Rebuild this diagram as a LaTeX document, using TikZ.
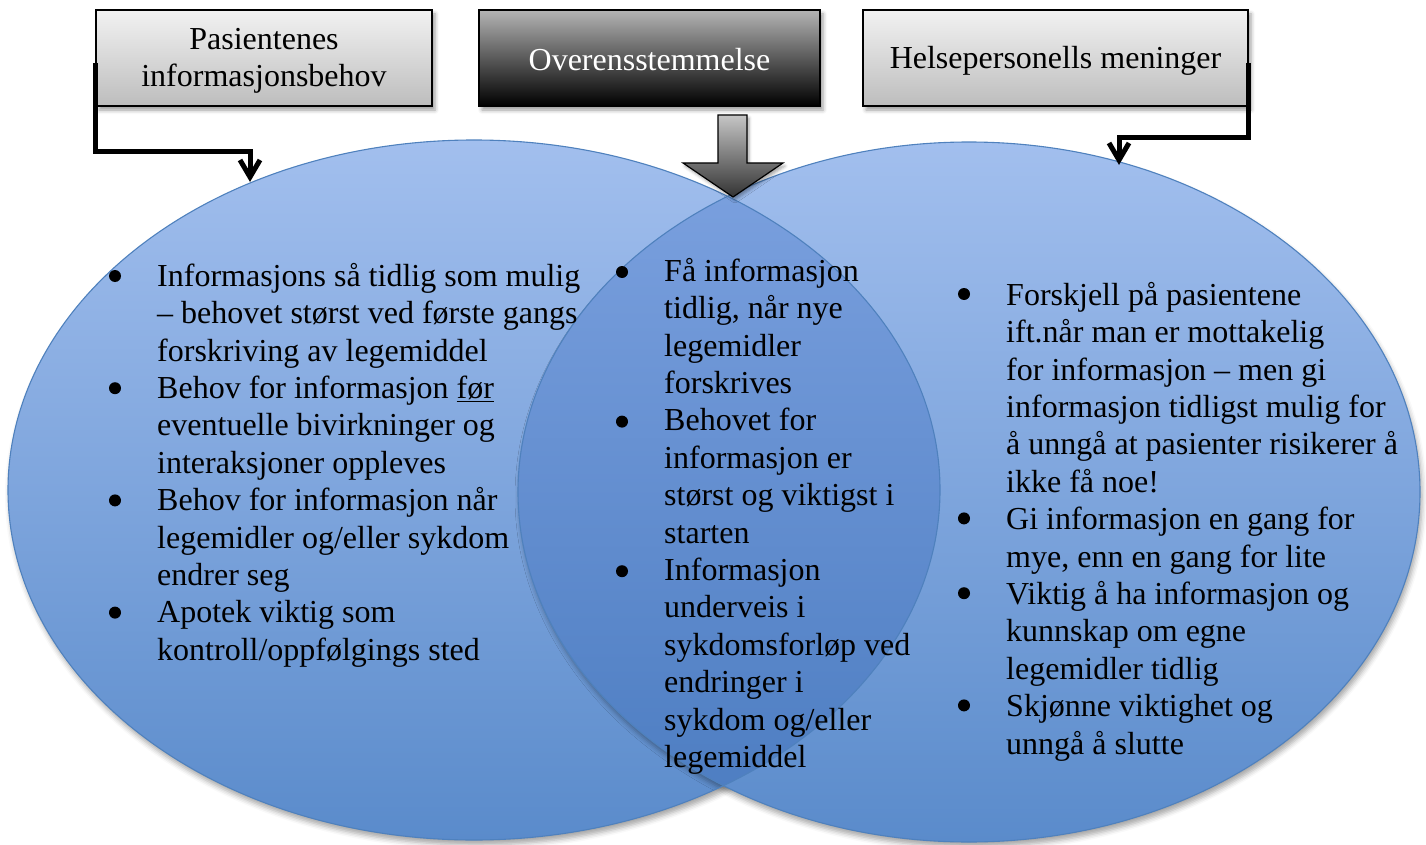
\documentclass[tikz,border=0pt]{standalone}
\usepackage{fontspec}
\setmainfont{Liberation Serif}
\usetikzlibrary{shadows.blur}

\definecolor{ellTop}{HTML}{A2BFEE}
\definecolor{ellBot}{HTML}{5A8BCB}
\definecolor{lensTop}{HTML}{7DA2E0}
\definecolor{lensBot}{HTML}{4A7BC0}
\definecolor{ellLine}{HTML}{4F81BD}
\definecolor{boxTop}{HTML}{F2F2F2}
\definecolor{boxBot}{HTML}{BDBDBD}
\definecolor{darkTop}{HTML}{B4B4B4}
\definecolor{darkBot}{HTML}{000000}

\tikzset{
  bigfont/.style={font=\fontsize{32pt}{37.4pt}\selectfont},
  venn/.style={top color=ellTop, bottom color=ellBot, draw=none,
    blur shadow={shadow xshift=2pt, shadow yshift=-5pt, shadow blur radius=5pt, shadow opacity=35}},
  vennline/.style={draw=ellLine, line width=1.1pt},
  lightbox/.style={rectangle, draw=black, line width=1.6pt, top color=boxTop, bottom color=boxBot,
    minimum height=96pt, inner sep=0pt,
    blur shadow={shadow xshift=3pt, shadow yshift=-4pt, shadow blur radius=4pt, shadow opacity=40}},
  darkbox/.style={lightbox, top color=darkTop, bottom color=darkBot},
  boxtext/.style={align=center, inner sep=0pt, bigfont},
  conn/.style={line width=5pt, line join=miter},
  vtip/.style={line width=5pt, line join=miter, line cap=butt},
  blockarrow/.style={draw=black, line width=1.2pt, top color=gray!45, bottom color=black!80,
    blur shadow={shadow xshift=2pt, shadow yshift=-3pt, shadow blur radius=3pt, shadow opacity=35}},
  listtext/.style={anchor=north west, inner sep=0pt, align=left, bigfont},
  bulletdot/.style={fill=black},
}

\begin{document}
\begin{tikzpicture}[x=1pt,y=-1pt]
\useasboundingbox (0,0) rectangle (1426,845);

% the two overlapping sets
\path[venn] (474,490) ellipse [x radius=466pt, y radius=350pt];
\path[venn] (969,492) ellipse [x radius=451pt, y radius=350pt];
\begin{scope}
  \clip (474,490) ellipse [x radius=466pt, y radius=350pt];
  \path[top color=lensTop, bottom color=lensBot] (969,492) ellipse [x radius=451pt, y radius=350pt];
\end{scope}
\draw[vennline] (474,490) ellipse [x radius=466pt, y radius=350pt];
\draw[vennline] (969,492) ellipse [x radius=451pt, y radius=350pt];

% heading boxes
\node[lightbox, minimum width=336pt] (pas) at (264,58) {};
\node[darkbox, minimum width=341pt] (ove) at (649.5,58) {};
\node[lightbox, minimum width=385pt] (hel) at (1055.5,58) {};
\node[boxtext] (pasT) at ([yshift=-3pt]pas.center) {Pasientenes\\[-1pt]informasjonsbehov};
\node[boxtext, text=white] (oveT) at ([yshift=-2pt]ove.center) {Overensstemmelse};
\node[boxtext] (helT) at ([yshift=-3pt]hel.center) {Helsepersonells meninger};

% connector ends on the ellipses
\coordinate (tipL) at (250,177);
\coordinate (tipR) at (1119,160);

\draw[conn] ([yshift=-5pt]pas.west) -- ([yshift=-5pt]pas.west |- 0,147) -| (tipL);
\draw[vtip] ([shift={(-10,-17)}]tipL) -- (tipL) -- ([shift={(10,-17)}]tipL);
\draw[conn] ([yshift=-5pt]hel.east) -- ([yshift=-5pt]hel.east |- 0,133) -| (tipR);
\draw[vtip] ([shift={(-10,-17)}]tipR) -- (tipR) -- ([shift={(10,-17)}]tipR);

% block arrow into the overlap
\path[blockarrow] (718,115) -- (747,115) -- (747,163) -- (783,163) -- (733,197)
  -- (683,163) -- (718,163) -- cycle;

% left set
\node[listtext] (listL) at (157,263) {%
Informasjons så tidlig som mulig\\
– behovet størst ved første gangs\\
forskriving av legemiddel\\
Behov for informasjon \underline{før}\\
eventuelle bivirkninger og\\
interaksjoner oppleves\\
Behov for informasjon når\\
legemidler og/eller sykdom\\
endrer seg\\
Apotek viktig som\\
kontroll/oppfølgings sted};
\foreach \k in {0,3,6,9}
  \fill[bulletdot] ([shift={(-42,13+\k*37.4)}]listL.north west) circle (6pt);

% overlap
\node[listtext] (listM) at (664,258) {%
Få informasjon\\
tidlig, når nye\\
legemidler\\
forskrives\\
Behovet for\\
informasjon er\\
størst og viktigst i\\
starten\\
Informasjon\\
underveis i\\
sykdomsforløp ved\\
endringer i\\
sykdom og/eller\\
legemiddel};
\foreach \k in {0,4,8}
  \fill[bulletdot] ([shift={(-42,14+\k*37.4)}]listM.north west) circle (6pt);

% right set
\node[listtext] (listR) at (1006,282) {%
Forskjell på pasientene\\
ift.når man er mottakelig\\
for informasjon – men gi\\
informasjon tidligst mulig for\\
å unngå at pasienter risikerer å\\
ikke få noe!\\
Gi informasjon en gang for\\
mye, enn en gang for lite\\
Viktig å ha informasjon og\\
kunnskap om egne\\
legemidler tidlig\\
Skjønne viktighet og\\
unngå å slutte};
\foreach \k in {0,6,8,11}
  \fill[bulletdot] ([shift={(-42,12+\k*37.4)}]listR.north west) circle (6pt);
\end{tikzpicture}
\end{document}
